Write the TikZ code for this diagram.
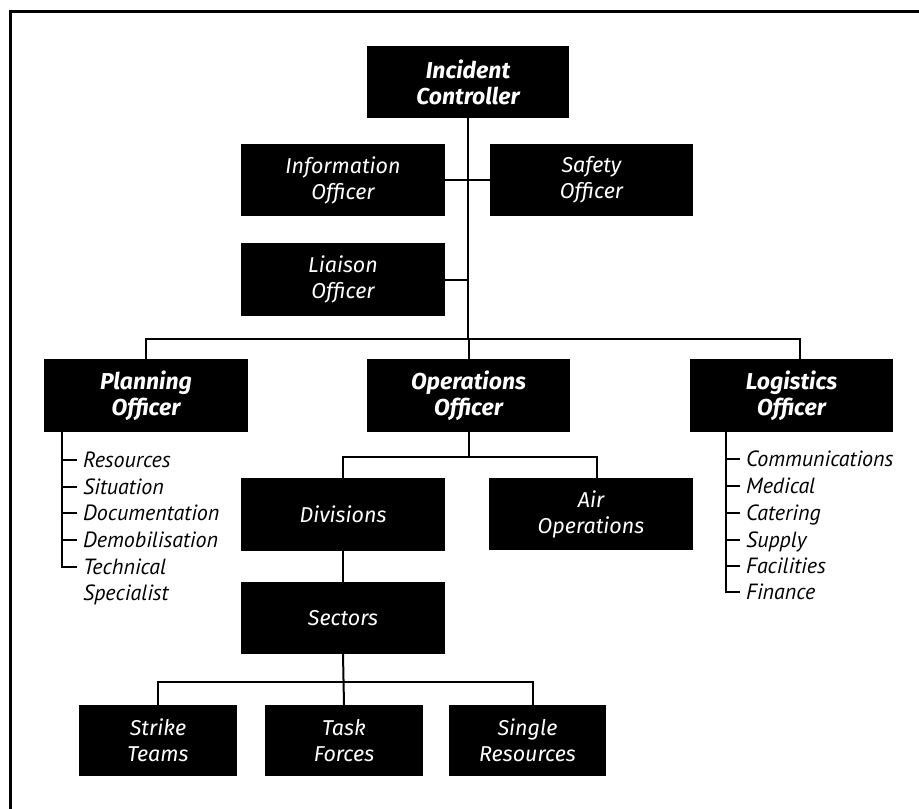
\documentclass[tikz,border=0pt]{standalone}
\usepackage{fontspec}
\setmainfont{PT Sans}
\newfontfamily\boxfont{Fira Sans}
\begin{document}
\begin{tikzpicture}[x=1pt,y=-1pt,
  box/.style={fill=black, text=white, inner sep=0pt, align=center,
    font=\boxfont\itshape\fontsize{21.5}{26}\selectfont},
  head/.style={box, font=\boxfont\bfseries\itshape\fontsize{23}{26}\selectfont},
  item/.style={anchor=west, inner xsep=6pt, inner ysep=0pt,
    text height=14pt, text depth=0pt,
    font=\itshape\fontsize{22}{26}\selectfont},
  link/.style={line width=2pt, line join=miter}
]
\useasboundingbox (0,0) rectangle (919,809);

% outer frame (top and left edges)
\draw[line width=3pt] (10,809) -- (10,11) -- (919,11);

% command staff
\node[head, minimum width=202pt, minimum height=72pt] (ic) at (468,82) {Incident\\Controller};
\node[box, minimum width=204pt, minimum height=72pt] (info) at (343,180) {Information\\Officer};
\node[box, minimum width=203pt, minimum height=72pt] (safety) at (591.5,180) {Safety\\Officer};
\node[box, minimum width=204pt, minimum height=73pt] (liaison) at (343,279.5) {Liaison\\Officer};

% general staff
\node[head, minimum width=204pt, minimum height=73pt] (plan) at (146,395.5) {Planning\\Officer};
\node[head, minimum width=203pt, minimum height=73pt] (ops) at (468.5,395.5) {Operations\\Officer};
\node[head, minimum width=203pt, minimum height=73pt] (logi) at (791.5,395.5) {Logistics\\Officer};

% operations branch
\node[box, minimum width=204pt, minimum height=73pt] (div) at (343,514.5) {Divisions};
\node[box, minimum width=204pt, minimum height=72pt] (air) at (591,514) {Air\\Operations};
\node[box, minimum width=204pt, minimum height=72pt] (sect) at (343,618) {Sectors};
\node[box, minimum width=158pt, minimum height=71pt] (strike) at (158,740.5) {Strike\\Teams};
\node[box, minimum width=158pt, minimum height=71pt] (task) at (344,740.5) {Task\\Forces};
\node[box, minimum width=157pt, minimum height=71pt] (single) at (527.5,740.5) {Single\\Resources};

% planning units
\coordinate (pl) at ([xshift=18pt]plan.south west);
\node[item] (res)  at (77,460) {Resources};
\node[item] (sit)  at (77,487) {Situation};
\node[item] (doc)  at (77,513) {Documentation};
\node[item] (demob) at (77,540) {Demobilisation};
\node[item] (tech) at (77,567) {Technical};
\node[item] (spec) at (77,593) {Specialist};

% logistics units
\coordinate (lg) at ([xshift=36pt]logi.south west);
\node[item] (comm) at (740,459) {Communications};
\node[item] (med)  at (740,486) {Medical};
\node[item] (cat)  at (740,513) {Catering};
\node[item] (sup)  at (740,540) {Supply};
\node[item] (fac)  at (740,566) {Facilities};
\node[item] (fin)  at (740,592) {Finance};

% connectors: command staff
\draw[link] (ic.south) -- (ic.south |- 0,339);
\draw[link] (info.east) -- (safety.west);
\draw[link] (liaison.east) -- (liaison.east -| ic.south);

% connectors: general staff
\draw[link] (plan.north) -- ++(0,-20) -| ([xshift=8.5pt]logi.north);
\draw[link] (ops.north) -- ++(0,-20);

% planning list
\draw[link] (pl) |- (tech.west);
\foreach \n in {res,sit,doc,demob}
  \draw[link] (\n.west) -- (\n.west -| pl);

% logistics list
\draw[link] (lg) |- (fin.west);
\foreach \n in {comm,med,cat,sup,fac}
  \draw[link] (\n.west) -- (\n.west -| lg);

% connectors: operations branch
\draw[link] (ops.south) -- ++(0,25);
\draw[link] (div.north) -- ++(0,-21) -| ([xshift=6pt]air.north);
\draw[link] (div.south) -- (sect.north);
\draw[link] (sect.south) -- (task.north);
\draw[link] (strike.north) -- ++(0,-23) -| ([xshift=5.5pt]single.north);
\end{tikzpicture}
\end{document}
